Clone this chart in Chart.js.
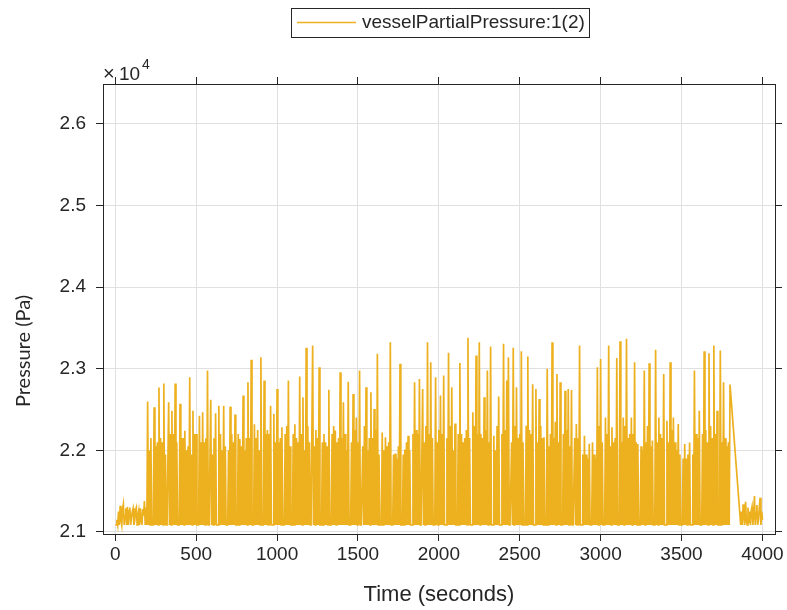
<!DOCTYPE html>
<html>
<head>
<meta charset="utf-8">
<script src="https://cdn.jsdelivr.net/npm/chart.js@4.4.1/dist/chart.umd.min.js"></script>
<style>
  html, body { margin: 0; padding: 0; background: #ffffff; }
  #wrap { width: 787px; height: 610px; position: relative; }
</style>
</head>
<body>
<div id="wrap"><canvas id="c" width="787" height="610"></canvas></div>
<script>
// Simulation log: vessel partial pressure over time (5 s output step)
const timeSec = [
  0,5,10,15,20,25,30,35,40,45,50,55,60,65,70,75,80,85,90,95,
  100,105,110,115,120,125,130,135,140,145,150,155,160,165,170,175,180,185,190,195,
  200,205,210,215,220,225,230,235,240,245,250,255,260,265,270,275,280,285,290,295,
  300,305,310,315,320,325,330,335,340,345,350,355,360,365,370,375,380,385,390,395,
  400,405,410,415,420,425,430,435,440,445,450,455,460,465,470,475,480,485,490,495,
  500,505,510,515,520,525,530,535,540,545,550,555,560,565,570,575,580,585,590,595,
  600,605,610,615,620,625,630,635,640,645,650,655,660,665,670,675,680,685,690,695,
  700,705,710,715,720,725,730,735,740,745,750,755,760,765,770,775,780,785,790,795,
  800,805,810,815,820,825,830,835,840,845,850,855,860,865,870,875,880,885,890,895,
  900,905,910,915,920,925,930,935,940,945,950,955,960,965,970,975,980,985,990,995,
  1000,1005,1010,1015,1020,1025,1030,1035,1040,1045,1050,1055,1060,1065,1070,1075,1080,1085,1090,1095,
  1100,1105,1110,1115,1120,1125,1130,1135,1140,1145,1150,1155,1160,1165,1170,1175,1180,1185,1190,1195,
  1200,1205,1210,1215,1220,1225,1230,1235,1240,1245,1250,1255,1260,1265,1270,1275,1280,1285,1290,1295,
  1300,1305,1310,1315,1320,1325,1330,1335,1340,1345,1350,1355,1360,1365,1370,1375,1380,1385,1390,1395,
  1400,1405,1410,1415,1420,1425,1430,1435,1440,1445,1450,1455,1460,1465,1470,1475,1480,1485,1490,1495,
  1500,1505,1510,1515,1520,1525,1530,1535,1540,1545,1550,1555,1560,1565,1570,1575,1580,1585,1590,1595,
  1600,1605,1610,1615,1620,1625,1630,1635,1640,1645,1650,1655,1660,1665,1670,1675,1680,1685,1690,1695,
  1700,1705,1710,1715,1720,1725,1730,1735,1740,1745,1750,1755,1760,1765,1770,1775,1780,1785,1790,1795,
  1800,1805,1810,1815,1820,1825,1830,1835,1840,1845,1850,1855,1860,1865,1870,1875,1880,1885,1890,1895,
  1900,1905,1910,1915,1920,1925,1930,1935,1940,1945,1950,1955,1960,1965,1970,1975,1980,1985,1990,1995,
  2000,2005,2010,2015,2020,2025,2030,2035,2040,2045,2050,2055,2060,2065,2070,2075,2080,2085,2090,2095,
  2100,2105,2110,2115,2120,2125,2130,2135,2140,2145,2150,2155,2160,2165,2170,2175,2180,2185,2190,2195,
  2200,2205,2210,2215,2220,2225,2230,2235,2240,2245,2250,2255,2260,2265,2270,2275,2280,2285,2290,2295,
  2300,2305,2310,2315,2320,2325,2330,2335,2340,2345,2350,2355,2360,2365,2370,2375,2380,2385,2390,2395,
  2400,2405,2410,2415,2420,2425,2430,2435,2440,2445,2450,2455,2460,2465,2470,2475,2480,2485,2490,2495,
  2500,2505,2510,2515,2520,2525,2530,2535,2540,2545,2550,2555,2560,2565,2570,2575,2580,2585,2590,2595,
  2600,2605,2610,2615,2620,2625,2630,2635,2640,2645,2650,2655,2660,2665,2670,2675,2680,2685,2690,2695,
  2700,2705,2710,2715,2720,2725,2730,2735,2740,2745,2750,2755,2760,2765,2770,2775,2780,2785,2790,2795,
  2800,2805,2810,2815,2820,2825,2830,2835,2840,2845,2850,2855,2860,2865,2870,2875,2880,2885,2890,2895,
  2900,2905,2910,2915,2920,2925,2930,2935,2940,2945,2950,2955,2960,2965,2970,2975,2980,2985,2990,2995,
  3000,3005,3010,3015,3020,3025,3030,3035,3040,3045,3050,3055,3060,3065,3070,3075,3080,3085,3090,3095,
  3100,3105,3110,3115,3120,3125,3130,3135,3140,3145,3150,3155,3160,3165,3170,3175,3180,3185,3190,3195,
  3200,3205,3210,3215,3220,3225,3230,3235,3240,3245,3250,3255,3260,3265,3270,3275,3280,3285,3290,3295,
  3300,3305,3310,3315,3320,3325,3330,3335,3340,3345,3350,3355,3360,3365,3370,3375,3380,3385,3390,3395,
  3400,3405,3410,3415,3420,3425,3430,3435,3440,3445,3450,3455,3460,3465,3470,3475,3480,3485,3490,3495,
  3500,3505,3510,3515,3520,3525,3530,3535,3540,3545,3550,3555,3560,3565,3570,3575,3580,3585,3590,3595,
  3600,3605,3610,3615,3620,3625,3630,3635,3640,3645,3650,3655,3660,3665,3670,3675,3680,3685,3690,3695,
  3700,3705,3710,3715,3720,3725,3730,3735,3740,3745,3750,3755,3760,3765,3770,3775,3780,3785,3790,3795,
  3800,
  3866,3871,3876,3881,3886,3891,3896,3901,3906,3911,3916,3921,3926,3931,
  3936,3941,3946,3951,3956,3961,3966,3971,3976,3981,3986,3991,3996,4001
];

const pressurePa = [
  // warm-up, 0-185 s
  21086,21086,21150,21086,21250,21086,21320,21150,21086,21280,21340,21086,21200,21290,21086,21310,21086,21260,21300,
  21086,21180,21250,21290,21086,21140,21270,21300,21086,21200,21260,21086,21290,21150,21086,21280,21200,21380,21086,
  // cycling, 190-3800 s
  21300,21086,22600,21086,22000,21086,22150,21086,21086,21086,22527,21086,22050,21086,22100,21086,22770,21086,22150,21086,
  22100,21086,22820,21086,21950,21086,21086,21086,22590,21086,22200,21086,22486,21086,22200,21086,22820,21086,22100,21086,
  21086,21086,22570,21086,22150,21086,22150,21086,22240,21086,22000,21086,22050,21086,22896,21086,21950,21086,22486,21086,
  22200,21086,22200,21086,21086,21086,22425,21086,22100,21086,22466,21086,22100,21086,22150,21086,22978,21086,21086,21086,
  22620,21086,21950,21086,22150,21086,22454,21086,21086,21086,22548,21086,22200,21086,22000,21086,22548,21086,22050,21086,
  21086,21086,22000,21086,22536,21086,22200,21086,22100,21086,22440,21086,21086,21086,22200,21086,22139,21086,22050,21086,
  22671,21086,22000,21086,22150,21086,22834,21086,22150,21086,23110,21086,21086,21086,22320,21086,22150,21086,22250,21086,
  22000,21086,23141,21086,21086,21086,22855,21086,22200,21086,22250,21086,22200,21086,22548,21086,21086,21086,22446,21086,
  22100,21086,22753,21086,22100,21086,22150,21086,22282,21086,21086,21086,22200,21086,22300,21086,22855,21086,22050,21086,
  21086,21086,22200,21086,22320,21086,22150,21086,22100,21086,22904,21086,22200,21086,22650,21086,22000,21086,23257,21086,
  22300,21086,22100,21086,21086,21086,23285,21086,22050,21086,22250,21086,22150,21086,23018,21086,21086,21086,22100,21086,
  22200,21086,22100,21086,22050,21086,22744,21086,21086,21086,22200,21086,22300,21086,22244,21086,22100,21086,22150,21086,
  22957,21086,22150,21086,22589,21086,22200,21086,22000,21086,22840,21086,21086,21086,22100,21086,22691,21086,22250,21086,
  22404,21086,22100,21086,22978,21086,21086,21086,22050,21086,22300,21086,22773,21086,22000,21086,22150,21086,22711,21086,
  22150,21086,22507,21086,22250,21086,23183,21086,21950,21086,21086,21086,22220,21086,22000,21086,22160,21086,22050,21086,
  22100,21086,23326,21086,21086,21086,21950,21086,21960,21086,21900,21086,22050,21086,23060,21086,21086,21086,21950,21086,
  22010,21086,22100,21086,22180,21086,22000,21086,21086,21086,22200,21086,22834,21086,22250,21086,22200,21086,22875,21086,
  21086,21086,22753,21086,22100,21086,22300,21086,23326,21086,22200,21086,23080,21086,22150,21086,21086,21086,22896,21086,
  22100,21086,22250,21086,22671,21086,22200,21086,22916,21086,21086,21086,22150,21086,23195,21086,22300,21086,22773,21086,
  22000,21086,22330,21086,21086,21086,22200,21086,23072,21086,22200,21086,22100,21086,22150,21086,22250,21086,23380,21086,
  22150,21086,21086,21086,22466,21086,22300,21086,23162,21086,22200,21086,23326,21086,22200,21086,22150,21086,22650,21086,
  22250,21086,22978,21086,22100,21086,23273,21086,21086,21086,22180,21086,22000,21086,22300,21086,22660,21086,21086,21086,
  22200,21086,23306,21086,22250,21086,22855,21086,23142,21086,21086,21086,22100,21086,23257,21086,22300,21086,22773,21086,
  22150,21086,22200,21086,23215,21086,22100,21086,21086,21086,22302,21086,23150,21086,22250,21086,22200,21086,22810,21086,
  21086,21086,22753,21086,22100,21086,22630,21086,22300,21086,22150,21086,22160,21086,21086,21086,22999,21086,22050,21086,
  22200,21086,23326,21086,22150,21086,22350,21086,22937,21086,22100,21086,22834,21086,21086,21086,22200,21086,22732,21086,
  22250,21086,22753,21086,22050,21086,22740,21086,21086,21086,22150,21086,22323,21086,22150,21086,23285,21086,21086,21086,
  21950,21086,22180,21086,21950,21086,21900,21086,22080,21086,21086,21086,22100,21086,21950,21086,21900,21086,23018,21086,
  22300,21086,23120,21086,22100,21086,21086,21086,22404,21086,22200,21086,23285,21086,22050,21086,22282,21086,22100,21086,
  22150,21086,23133,21086,21086,21086,23338,21086,22100,21086,22404,21086,22300,21086,23367,21086,22150,21086,22200,21086,
  22404,21086,22200,21086,23080,21086,22100,21086,22077,21086,21086,21086,22050,21086,22000,21086,22978,21086,22100,21086,
  22300,21086,23068,21086,22050,21086,22120,21086,21086,21086,23232,21086,22100,21086,22404,21086,22200,21086,22150,21086,
  22937,21086,21086,21086,22364,21086,22100,21086,23080,21086,22250,21086,22404,21086,22100,21086,22000,21086,22323,21086,
  21950,21086,21086,21086,21900,21086,22077,21086,21900,21086,21950,21086,22097,21086,21086,21086,21950,21086,22978,21086,
  22200,21086,22150,21086,22486,21086,21086,21086,22200,21086,23215,21086,22250,21086,22100,21086,23190,21086,22300,21086,
  22150,21086,23285,21086,22200,21086,22486,21086,21086,21086,23224,21086,22100,21086,22834,21086,22150,21086,22050,21086,
  22100,21086,22806,
  // settling, 3866-4001 s
  21086,21250,21086,21340,21200,21086,21370,21150,21086,21300,21110,21250,21086,21260,
  21310,21086,21200,21440,21086,21230,21330,21086,21150,21300,21420,21086,21250,21150
];

const seriesName = 'vesselPartialPressure:1(2)';
const xTickValues = [0, 500, 1000, 1500, 2000, 2500, 3000, 3500, 4000];
const xTickLabels = ['0', '500', '1000', '1500', '2000', '2500', '3000', '3500', '4000'];
const yTickValues = [21000, 22000, 23000, 24000, 25000, 26000];
const yTickLabels = ['2.1', '2.2', '2.3', '2.4', '2.5', '2.6'];

// Axis limits (seconds, Pa)
const X_MIN = -76, X_MAX = 4078;
const Y_MIN = 20975, Y_MAX = 26490;

const FONT = "'Liberation Sans', Arial, Helvetica, sans-serif";
const LABEL_FONT = "Lato, 'Liberation Sans', sans-serif";
const INK = '#262626';
const GRID = '#e0e0e0';
const LINE = '#EDB120';

const points = timeSec.map((t, i) => ({ x: t, y: pressurePa[i] }));

function fixedTicks(values) {
  return scale => { scale.ticks = values.map(v => ({ value: v })); };
}

const figureText = {
  id: 'figureText',
  afterDraw(chart) {
    const ctx = chart.ctx;
    ctx.save();
    ctx.fillStyle = INK;

    // axis exponent: "×10" with superscript 4
    ctx.textAlign = 'left';
    ctx.textBaseline = 'alphabetic';
    ctx.font = '20px ' + FONT;
    ctx.fillText('\u00d7', 103, 80);
    ctx.font = '19px ' + FONT;
    ctx.fillText('10', 119, 80);
    ctx.font = '14px ' + FONT;
    ctx.fillText('4', 142, 69);

    // y axis label
    ctx.save();
    ctx.translate(24, 351);
    ctx.rotate(-Math.PI / 2);
    ctx.font = '20px ' + LABEL_FONT;
    ctx.textAlign = 'center';
    ctx.textBaseline = 'middle';
    ctx.fillText('Pressure (Pa)', 0, 0);
    ctx.restore();

    // legend box
    ctx.fillStyle = '#ffffff';
    ctx.fillRect(291.5, 8.5, 298, 29);
    ctx.strokeStyle = INK;
    ctx.lineWidth = 1;
    ctx.strokeRect(291.5, 8.5, 298, 29);
    ctx.strokeStyle = LINE;
    ctx.lineWidth = 1.5;
    ctx.beginPath();
    ctx.moveTo(297, 22.5);
    ctx.lineTo(356, 22.5);
    ctx.stroke();
    ctx.fillStyle = INK;
    ctx.font = '19px ' + FONT;
    ctx.textAlign = 'left';
    ctx.textBaseline = 'middle';
    ctx.fillText(seriesName, 362, 23);
    ctx.restore();
  }
};

const tickFont = { family: FONT, size: 19 };

new Chart(document.getElementById('c'), {
  type: 'line',
  data: {
    datasets: [{
      label: seriesName,
      data: points,
      borderColor: LINE,
      borderWidth: 1.7,
      pointRadius: 0,
      tension: 0,
      fill: false,
      xAxisID: 'x',
      yAxisID: 'y'
    }]
  },
  options: {
    responsive: false,
    animation: false,
    devicePixelRatio: 1,
    layout: { padding: 0 },
    plugins: { legend: { display: false }, tooltip: { enabled: false } },
    scales: {
      x: {
        type: 'linear', position: 'bottom', min: X_MIN, max: X_MAX,
        afterBuildTicks: fixedTicks(xTickValues),
        afterFit: s => { s.height = 76; },
        ticks: { autoSkip: false, maxRotation: 0, padding: 2, color: INK, font: tickFont,
                 callback: (v, i) => xTickLabels[i] },
        grid: { color: GRID, lineWidth: 1, drawTicks: true, tickLength: 7, tickColor: INK, tickWidth: 1 },
        border: { display: true, color: INK, width: 1 },
        title: { display: true, text: 'Time (seconds)', color: INK,
                 font: { family: FONT, size: 22 }, padding: { top: 0, bottom: 2 } }
      },
      xTop: {
        type: 'linear', position: 'top', min: X_MIN, max: X_MAX,
        afterBuildTicks: fixedTicks(xTickValues),
        afterFit: s => { s.height = 84; },
        ticks: { display: false },
        grid: { drawOnChartArea: false, drawTicks: true, tickLength: 7, tickColor: INK, tickWidth: 1 },
        border: { display: true, color: INK, width: 1 }
      },
      y: {
        type: 'linear', position: 'left', min: Y_MIN, max: Y_MAX,
        afterBuildTicks: fixedTicks(yTickValues),
        afterFit: s => { s.width = 103; },
        ticks: { autoSkip: false, padding: 10, color: INK, font: tickFont,
                 callback: (v, i) => yTickLabels[i] },
        grid: { color: GRID, lineWidth: 1, drawTicks: true, tickLength: 7, tickColor: INK, tickWidth: 1 },
        border: { display: true, color: INK, width: 1 }
      },
      yRight: {
        type: 'linear', position: 'right', min: Y_MIN, max: Y_MAX,
        afterBuildTicks: fixedTicks(yTickValues),
        afterFit: s => { s.width = 12; },
        ticks: { display: false },
        grid: { drawOnChartArea: false, drawTicks: true, tickLength: 7, tickColor: INK, tickWidth: 1 },
        border: { display: true, color: INK, width: 1 }
      }
    }
  },
  plugins: [figureText]
});
</script>
</body>
</html>
